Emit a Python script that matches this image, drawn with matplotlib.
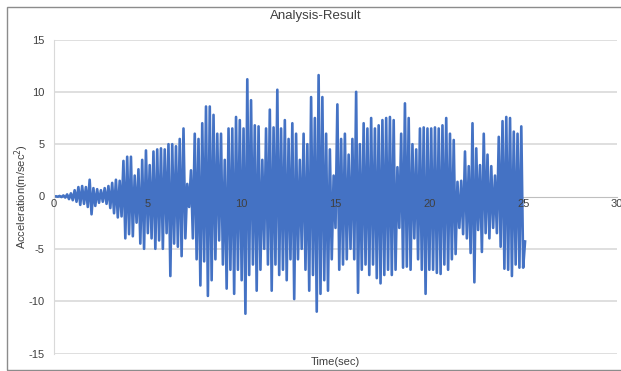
import matplotlib
matplotlib.use("Agg")
import matplotlib.pyplot as plt
import numpy as np
from matplotlib.patches import Rectangle

plt.rcParams['font.family'] = ['Liberation Sans', 'DejaVu Sans']
plt.rcParams['axes.unicode_minus'] = False

# Acceleration record, alternating peaks / troughs
# one row per second, sample step 0.1 sec
dt = 0.1
accel_rows = [
    [0.02, -0.02, 0.05, -0.05, 0.1, -0.1, 0.2, -0.25, 0.3, -0.35],
    [0.6, -0.5, 0.9, -0.8, 1.0, -0.7, 0.9, -1.0, 1.6, -1.7],
    [0.8, -0.9, 0.7, -0.6, 0.6, -0.5, 0.8, -0.7, 1.0, -1.1],
    [1.3, -1.6, 1.6, -2.0, 1.5, -1.9, 3.4, -4.0, 3.8, -3.6],
    [3.8, -3.8, 2.0, -2.5, 2.6, -4.5, 3.5, -5.0, 4.4, -3.5],
    [3.0, -4.0, 4.3, -5.0, 4.5, -4.2, 4.6, -5.0, 4.5, -3.5],
    [5.0, -7.6, 5.0, -4.5, 4.8, -4.8, 5.5, -5.7, 6.5, -4.0],
    [1.2, -1.0, 2.5, -4.0, 6.0, -6.0, 5.5, -8.5, 7.0, -6.2],
    [8.6, -9.5, 8.6, -8.0, 7.8, -6.0, 6.0, -4.2, 6.0, -6.5],
    [3.5, -8.8, 6.5, -7.0, 6.5, -9.3, 7.6, -7.0, 7.3, -8.0],
    [6.5, -11.2, 11.2, -7.5, 9.2, -6.5, 6.8, -9.0, 6.7, -7.0],
    [3.5, -5.0, 6.5, -6.5, 8.3, -9.0, 6.6, -6.5, 10.2, -7.5],
    [6.5, -7.0, 7.3, -8.0, 5.5, -6.0, 7.0, -9.8, 6.0, -6.0],
    [3.5, -5.0, 6.0, -7.0, 5.0, -9.0, 9.5, -7.5, 7.5, -11.0],
    [11.6, -9.3, 9.5, -8.0, 6.0, -9.0, 4.5, -6.0, 2.0, -3.0],
    [8.8, -7.0, 5.5, -6.5, 6.0, -6.0, 4.0, -5.0, 5.5, -6.0],
    [10.0, -9.2, 5.0, -7.0, 7.0, -6.5, 6.5, -7.5, 7.5, -6.5],
    [6.5, -7.8, 6.8, -8.3, 7.3, -7.5, 7.5, -7.0, 7.6, -7.5],
    [7.3, -7.0, 2.8, -3.0, 6.0, -6.8, 8.9, -6.7, 7.5, -7.0],
    [5.0, -4.0, 4.5, -6.0, 6.5, -7.0, 6.6, -9.3, 6.5, -7.0],
    [6.5, -7.0, 6.6, -7.3, 6.5, -7.4, 6.8, -6.5, 7.5, -7.0],
    [6.0, -6.0, 5.4, -5.5, 1.4, -3.0, 1.5, -3.6, 4.3, -4.0],
    [2.9, -5.4, 7.0, -8.2, 4.6, -3.2, 3.0, -5.3, 6.0, -3.5],
    [4.0, -4.0, 2.9, -3.0, 2.0, -3.5, 5.7, -4.8, 7.2, -6.9],
    [7.6, -7.0, 7.5, -7.6, 6.2, -6.5, 6.0, -6.8, 6.7, -6.8],
    [-4.3],
]
accel = [0.0] + [v for row in accel_rows for v in row]
time = np.arange(len(accel)) * dt

x_ticks = [0, 5, 10, 15, 20, 25, 30]
y_ticks = [-15, -10, -5, 0, 5, 10, 15]

text_col = '#404040'
grid_col = '#d9d9d9'

fig = plt.figure(figsize=(6.21, 3.71), dpi=100)
ax = fig.add_axes([54 / 621, 1 - 353.5 / 371, (617 - 54) / 621, (353.5 - 39.5) / 371])

# gridlines behind the series
for y in y_ticks:
    if y != 0:
        ax.axhline(y, color=grid_col, lw=1.2, zorder=0)

ax.plot(time, accel, color='#4472C4', lw=1.9, zorder=2)

ax.set_xlim(0, 30)
ax.set_ylim(-15, 15)
ax.set_xticks(x_ticks)
ax.set_yticks(y_ticks)
ax.set_axisbelow(False)

ax.spines['top'].set_visible(False)
ax.spines['right'].set_visible(False)
ax.spines['left'].set_color(grid_col)
ax.spines['bottom'].set_position(('data', 0))
ax.spines['bottom'].set_color('#bfbfbf')
ax.spines['bottom'].set_zorder(1)

ax.tick_params(axis='x', length=0, pad=2, labelsize=8, labelcolor=text_col)
ax.tick_params(axis='y', length=0, pad=7, labelsize=8, labelcolor=text_col)
for lbl in ax.get_xticklabels():
    lbl.set_zorder(5)

fig.text(22 / 621, 1 - 197 / 371, 'Acceleration(m/sec$^2$)', fontsize=8, color=text_col,
         rotation=90, ha='center', va='center')
fig.text(335 / 621, 1 - 362 / 371, 'Time(sec)', fontsize=8, color=text_col,
         ha='center', va='center')
fig.text(316 / 621, 1 - 16 / 371, 'Analysis-Result', fontsize=9.5, color=text_col,
         ha='center', va='center')

# chart frame
fig.patches.append(Rectangle((6.5 / 621, 1 / 371), 1.0, 1 - 7.5 / 371,
                             transform=fig.transFigure, fill=False,
                             edgecolor='#8c8c8c', lw=1.0))

fig.savefig('out.png', dpi=100)
